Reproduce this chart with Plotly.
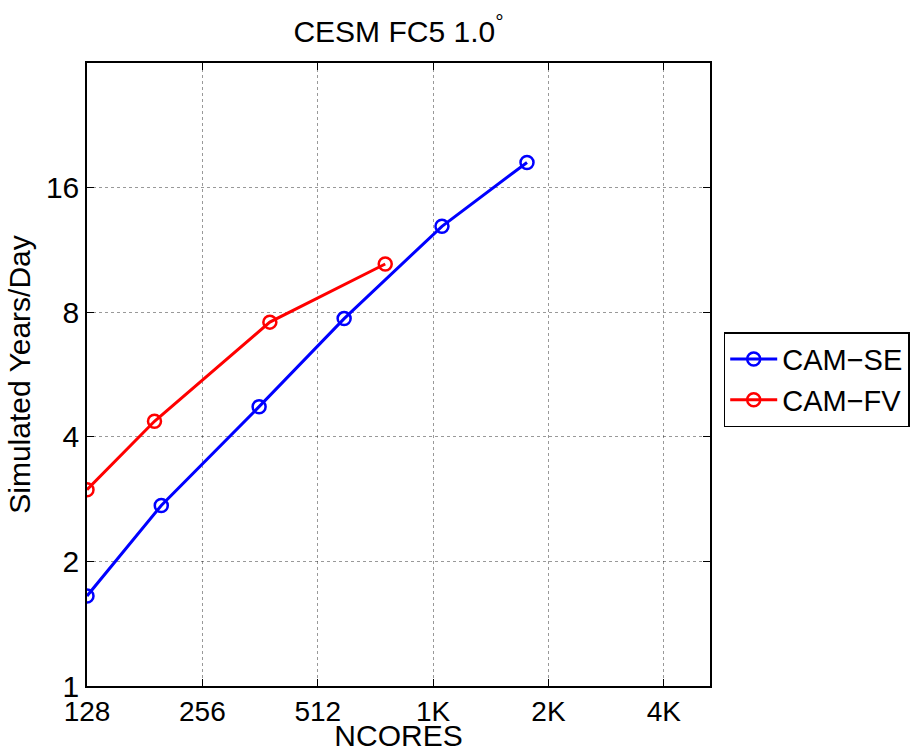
import plotly.graph_objects as go
import math

# Data
se_cores = [128, 200, 360, 600, 1080, 1800]
se_ypd = [1.65, 2.73, 4.73, 7.72, 12.9, 18.4]
fv_cores = [128, 192, 384, 768]
fv_ypd = [2.98, 4.36, 7.57, 10.46]

x_tickvals = [128, 256, 512, 1024, 2048, 4096]
x_ticktext = ["128", "256", "512", "1K", "2K", "4K"]
y_tickvals = [1, 2, 4, 8, 16]
y_ticktext = ["1", "2", "4", "8", "16"]

FONT = "Liberation Sans, Arial, Helvetica, sans-serif"

fig = go.Figure()
fig.add_trace(go.Scatter(
    x=se_cores, y=se_ypd, mode="lines+markers", name="CAM\u2212SE",
    line=dict(color="#0000ff", width=3),
    marker=dict(symbol="circle-open", size=13, color="#0000ff", line=dict(width=2.5)),
))
fig.add_trace(go.Scatter(
    x=fv_cores, y=fv_ypd, mode="lines+markers", name="CAM\u2212FV",
    line=dict(color="#ff0000", width=3),
    marker=dict(symbol="circle-open", size=13, color="#ff0000", line=dict(width=2.5)),
))

axis_common = dict(
    showline=True, linecolor="black", linewidth=1.5, mirror="ticks",
    ticks="inside", ticklen=7, tickcolor="black", tickwidth=1,
    showgrid=True, gridcolor="rgba(0,0,0,0.4)", griddash="dot", gridwidth=1,
    zeroline=False,
)

fig.update_xaxes(
    type="log", range=[math.log10(128), math.log10(128 * 2 ** 5.4)],
    tickvals=x_tickvals, ticktext=x_ticktext,
    tickfont=dict(family=FONT, size=28, color="black"),
    title=dict(text="NCORES", font=dict(family=FONT, size=30, color="black"), standoff=2),
    **axis_common,
)
fig.update_yaxes(
    type="log", range=[0, math.log10(32)],
    tickvals=y_tickvals, ticktext=y_ticktext,
    tickfont=dict(family=FONT, size=30, color="black"),
    title=dict(text="Simulated Years/Day", font=dict(family=FONT, size=30, color="black"), standoff=6),
    **axis_common,
)

fig.update_layout(
    width=913, height=752, autosize=False,
    margin=dict(l=87, r=203, t=63, b=66, autoexpand=False),
    paper_bgcolor="white", plot_bgcolor="white",
    title=dict(text="CESM FC5 1.0<sup>\u00b0</sup>", x=(87 + 710) / 2 / 913, xanchor="center",
               y=1 - 31 / 752, yanchor="middle",
               font=dict(family=FONT, size=30, color="black")),
    legend=dict(x=1.022, xanchor="left", y=0.568, yanchor="top",
                bordercolor="black", borderwidth=1.5, bgcolor="white",
                font=dict(family=FONT, size=29, color="black"),
                tracegroupgap=0, itemwidth=47),
    showlegend=True,
)

fig.write_html("out.html")
